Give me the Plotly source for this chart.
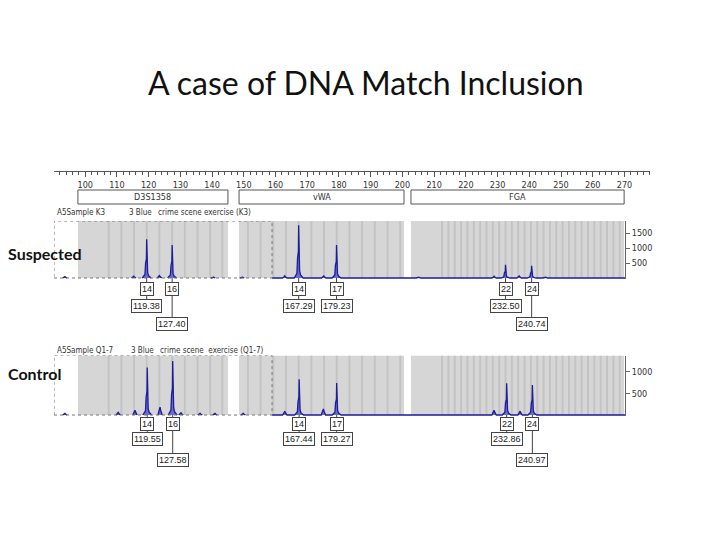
import plotly.graph_objects as go

W, H = 720, 540


def py(y):
    return 1 - y / H


def pxx(x):
    return x / W


# ---------------- data ----------------
title_text = "A case of DNA Match Inclusion"
row_labels = ["Suspected", "Control"]
sample_names = ["A5Sample K3", "A5Sample Q1-7"]
dye_names = ["3 Blue", "3 Blue"]
run_names = ["crime scene exercise (K3)", "crime scene  exercise (Q1-7)"]

loci = ["D3S1358", "vWA", "FGA"]
locus_start = [97.7, 148.5, 202.7]
locus_end = [145.0, 200.5, 269.9]

bins_d3 = [107.4, 111.4, 115.4, 119.4, 123.4, 127.4, 131.4, 135.4, 139.4, 143.2]
bins_vwa = [151.3, 155.3, 159.3, 163.3, 167.3, 171.3, 175.3, 179.3, 183.3,
            187.3, 191.3, 195.3, 199.3]
bins_fga = [212.5, 214.5, 216.5, 218.5, 220.5, 222.5, 224.5, 226.5, 228.5,
            230.5, 232.5, 234.5, 236.5, 238.5, 240.5, 242.5, 244.5, 246.5,
            248.5, 250.5, 252.5, 254.5, 256.5, 258.5, 260.5, 262.5, 264.5,
            266.5, 268.5]

allele_calls = ["14", "16", "14", "17", "22", "24"]
size_row = [1, 2, 1, 1, 1, 2]

susp_sizes = [119.38, 127.40, 167.29, 179.23, 232.50, 240.74]
susp_heights = [1290, 1100, 1760, 1100, 440, 410]
susp_minor_pos = [93.6, 115.3, 123.4, 140.3, 149.4, 162.9, 175.2, 205.0, 228.9, 236.8, 245.0]
susp_minor_h = [50, 60, 80, 40, 40, 70, 70, 40, 60, 70, 40]

ctrl_sizes = [119.55, 127.58, 167.44, 179.27, 232.86, 240.97]
ctrl_heights = [1100, 1250, 825, 740, 735, 695]
ctrl_minor_pos = [93.6, 110.4, 115.7, 123.6, 130.2, 136.2, 140.9, 149.8, 162.9, 175.1, 228.9, 237.1]
ctrl_minor_h = [40, 60, 110, 180, 50, 40, 40, 40, 90, 140, 110, 90]

# ---------------- geometry / style ----------------
X_LO, X_HI = 90.16, 270.17
PX_PER_BP = 3.172
FRAME_SPLIT = 158.9
Y1_TOP, Y2_TOP = 1900, 1377
SMALL = "Liberation Sans, Arial, sans-serif"
COND = "DejaVu Sans Condensed, Liberation Sans Narrow, Liberation Sans, sans-serif"
SLIDE = "Lato, Carlito, sans-serif"
GRAY = "#d6d6d6"
STRIPE = "#c3c3c3"
BLUE = "#1c1c96"
FILLBLUE = "#6a6ad6"

MAIN_DX = [-1.4, -0.9, -0.55, -0.35, -0.2, -0.08, 0.0, 0.12, 0.3, 0.6, 1.0, 1.4]
MAIN_FY = [0, 0.04, 0.09, 0.38, 0.42, 0.5, 1.0, 0.5, 0.14, 0.06, 0.03, 0]
MINOR_DX = [-0.7, -0.2, 0.0, 0.2, 0.7]
MINOR_FY = [0, 0.6, 1.0, 0.6, 0]


def trace_xy(main_pos, main_h, minor_pos, minor_h):
    peaks = [(p, h, MAIN_DX, MAIN_FY) for p, h in zip(main_pos, main_h)]
    peaks += [(p, h, MINOR_DX, MINOR_FY) for p, h in zip(minor_pos, minor_h)]
    peaks.sort(key=lambda t: t[0])
    xs, ys = [], []
    started = False
    for p, h, dx, fy in peaks:
        if p < FRAME_SPLIT:
            xs += [p + d for d in dx] + [None]
            ys += [h * f for f in fy] + [None]
        else:
            if not started:
                xs.append(FRAME_SPLIT)
                ys.append(0)
                started = True
            xs += [p + d for d in dx]
            ys += [h * f for f in fy]
    xs.append(X_HI)
    ys.append(0)
    return xs, ys


fig = go.Figure()

for xa, ya, pos, hts, mpos, mh in [("x", "y", susp_sizes, susp_heights, susp_minor_pos, susp_minor_h),
                                   ("x2", "y2", ctrl_sizes, ctrl_heights, ctrl_minor_pos, ctrl_minor_h)]:
    xs, ys = trace_xy(pos, hts, mpos, mh)
    fig.add_trace(go.Scatter(x=xs, y=ys, xaxis=xa, yaxis=ya, mode="lines",
                             line=dict(color=BLUE, width=1.3), fill="tozeroy",
                             fillcolor=FILLBLUE, connectgaps=False, hoverinfo="skip"))

shapes = []
annotations = []


def note(x, y, text, xref="paper", xanchor="center", font=None, **kw):
    d = dict(xref=xref, yref="paper", x=x, y=y, text=text, showarrow=False,
             xanchor=xanchor, yanchor="middle", font=font or dict(family=COND, size=9, color="#333333"))
    d.update(kw)
    annotations.append(d)


# panels backgrounds
for xa, ya, top in [("x", "y", Y1_TOP), ("x2", "y2", Y2_TOP)]:
    for s, e in zip(locus_start, locus_end):
        shapes.append(dict(type="rect", xref=xa, yref=ya, x0=s, x1=e, y0=0, y1=top,
                           fillcolor=GRAY, line=dict(width=0), layer="below"))
    for b in bins_d3 + bins_vwa + bins_fga:
        shapes.append(dict(type="rect", xref=xa, yref=ya, x0=b - 0.3, x1=b + 0.3, y0=0, y1=top,
                           fillcolor=STRIPE, line=dict(width=0), layer="below"))
    shapes.append(dict(type="rect", xref=xa, yref=ya, x0=X_LO, x1=FRAME_SPLIT, y0=0, y1=top,
                       line=dict(color="#777777", width=1, dash="dot"), fillcolor="rgba(0,0,0,0)",
                       layer="above"))

# locus boxes on top ruler
for name, s, e in zip(loci, locus_start, locus_end):
    shapes.append(dict(type="rect", xref="x3", yref="paper", x0=s, x1=e, y0=py(204), y1=py(190),
                       line=dict(color="#555555", width=1), fillcolor="white"))
    note((s + e) / 2, py(197), name, xref="x3")

# sample labels
for i, ylab in enumerate([213, 350]):
    for txt, xl in zip([sample_names[i], dye_names[i], run_names[i]], [55, 127 + 2 * i, 156 + i * 2]):
        note(pxx(xl), py(ylab), txt, xanchor="left",
             font=dict(family=COND, size=8, color="#333333"))

# allele / size boxes
for xa, sizes, base_y, ay, r1, r2 in [("x", susp_sizes, 278, 289, 306, 324),
                                      ("x2", ctrl_sizes, 415, 424, 439, 460)]:
    for call, sz, row in zip(allele_calls, sizes, size_row):
        sy = r1 if row == 1 else r2
        shapes.append(dict(type="line", xref=xa, yref="paper", x0=sz, x1=sz, y0=py(base_y), y1=py(ay - 6),
                           line=dict(color="#444444", width=1)))
        shapes.append(dict(type="line", xref=xa, yref="paper", x0=sz, x1=sz, y0=py(ay + 6), y1=py(sy - 6),
                           line=dict(color="#444444", width=1)))
        bx = dict(bordercolor="#444444", borderwidth=1, borderpad=1, bgcolor="white")
        note(sz, py(ay), call, xref=xa, font=dict(family=SMALL, size=9, color="#222222"), **bx)
        note(sz, py(sy), f"{sz:.2f}", xref=xa, font=dict(family=SMALL, size=9, color="#222222"), **bx)

# title and row labels
note(pxx(366), py(82), title_text, font=dict(family=SLIDE, size=32, color="#111111"))
for txt, yy in zip(row_labels, [254, 374]):
    note(pxx(6), py(yy), txt, xanchor="left",
         font=dict(family=SLIDE, size=16, color="#111111", weight="bold"))

yax_common = dict(side="right", ticks="outside", ticklen=4, tickcolor="#666666", showline=True,
                  linecolor="#666666", linewidth=1, showgrid=False, zeroline=False,
                  tickfont=dict(family=COND, size=9, color="#333333"))

fig.update_layout(
    width=W, height=H, margin=dict(l=0, r=0, t=0, b=0),
    paper_bgcolor="white", plot_bgcolor="white", showlegend=False,
    xaxis=dict(domain=[pxx(54), pxx(625)], range=[X_LO, X_HI], visible=False, anchor="y"),
    yaxis=dict(domain=[py(278.9), py(221)], range=[-30, Y1_TOP], anchor="x",
               tickvals=[500, 1000, 1500], **yax_common),
    xaxis2=dict(domain=[pxx(54), pxx(625)], range=[X_LO, X_HI], visible=False, anchor="y2"),
    yaxis2=dict(domain=[py(416.1), py(355.5)], range=[-25, Y2_TOP], anchor="x2",
                tickvals=[500, 1000], **yax_common),
    xaxis3=dict(domain=[pxx(54), pxx(650)], range=[X_LO, X_LO + (650 - 54) / PX_PER_BP], anchor="y3",
                showline=True, linecolor="#555555", ticks="outside", ticklen=5, tickcolor="#555555",
                tick0=100, dtick=10, showgrid=False, zeroline=False,
                minor=dict(dtick=2, ticklen=3, ticks="outside", tickcolor="#555555"),
                tickfont=dict(family=COND, size=9, color="#333333")),
    yaxis3=dict(domain=[py(171), py(169)], range=[0, 1], visible=False, anchor="x3"),
    shapes=shapes, annotations=annotations,
)

fig.write_html("out.html", config={"displayModeBar": False},
               post_script="document.body.style.margin='0px';")
